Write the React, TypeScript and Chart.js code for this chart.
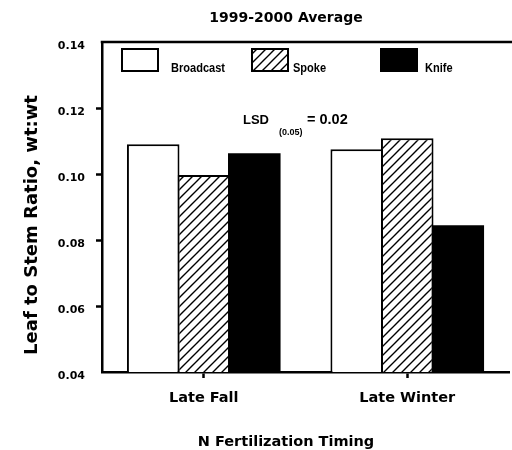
import React, { useEffect, useRef } from "react";
import { Chart, registerables } from "chart.js";

Chart.register(...registerables);

const categories = ["Late Fall", "Late Winter"];
const seriesNames = ["Broadcast", "Spoke", "Knife"];
const broadcastValues = [0.109, 0.1075];
const spokeValues = [0.0997, 0.1108];
const knifeValues = [0.1063, 0.0845];
const yMin = 0.04;
const yMax = 0.14;
const yStep = 0.02;
const chartTitle = "1999-2000 Average";
const yAxisTitle = "Leaf to Stem Ratio, wt:wt";
const xAxisTitle = "N Fertilization Timing";
const lsdMain = "LSD";
const lsdSub = "(0.05)";
const lsdValue = "= 0.02";

const FONT = '"DejaVu Sans", sans-serif';

function makeHatch(): CanvasPattern | string {
  const s = 9;
  const c = document.createElement("canvas");
  c.width = s;
  c.height = s;
  const g = c.getContext("2d");
  if (!g) return "#fff";
  g.fillStyle = "#fff";
  g.fillRect(0, 0, s, s);
  g.strokeStyle = "#000";
  g.lineWidth = 1.4;
  g.beginPath();
  g.moveTo(-1, s + 1);
  g.lineTo(s + 1, -1);
  g.moveTo(-1, 1);
  g.lineTo(1, -1);
  g.moveTo(s - 1, s + 1);
  g.lineTo(s + 1, s - 1);
  g.stroke();
  return g.createPattern(c, "repeat") || "#fff";
}

const decorPlugin = {
  id: "decor",
  afterDraw(chart: any) {
    const ctx: CanvasRenderingContext2D = chart.ctx;
    const ca = chart.chartArea;
    ctx.save();
    // top frame line
    ctx.strokeStyle = "#000";
    ctx.lineWidth = 2.5;
    ctx.beginPath();
    ctx.moveTo(ca.left - 1.25, ca.top);
    ctx.lineTo(chart.width, ca.top);
    ctx.stroke();

    ctx.fillStyle = "#000";
    // title
    ctx.font = `bold 14px ${FONT}`;
    ctx.textAlign = "center";
    ctx.textBaseline = "alphabetic";
    ctx.fillText(chartTitle, ca.left + 184, 22);

    // x axis title
    ctx.font = `bold 14.5px ${FONT}`;
    ctx.fillText(xAxisTitle, ca.left + 184, 446);

    // y axis title
    ctx.save();
    ctx.translate(37, 225);
    ctx.rotate(-Math.PI / 2);
    ctx.font = `bold 18px ${FONT}`;
    ctx.textAlign = "center";
    ctx.fillText(yAxisTitle, 0, 0);
    ctx.restore();

    // legend
    const boxOffsets = [20, 150, 279];
    const labelOffsets = [69, 191, 323];
    chart.data.datasets.forEach((ds: any, i: number) => {
      const bx = ca.left + boxOffsets[i];
      const by = ca.top + 7;
      ctx.fillStyle = ds.backgroundColor;
      ctx.fillRect(bx, by, 36, 22);
      ctx.strokeStyle = "#000";
      ctx.lineWidth = 2;
      ctx.strokeRect(bx, by, 36, 22);
      ctx.save();
      ctx.fillStyle = "#000";
      ctx.font = 'bold 13px "Liberation Sans", sans-serif';
      ctx.textAlign = "left";
      ctx.textBaseline = "alphabetic";
      ctx.translate(ca.left + labelOffsets[i], ca.top + 30);
      ctx.scale(0.85, 1);
      ctx.fillText(ds.label, 0, 0);
      ctx.restore();
    });

    // LSD annotation
    ctx.fillStyle = "#000";
    ctx.textAlign = "left";
    ctx.font = 'bold 13px "Liberation Sans", sans-serif';
    ctx.fillText(lsdMain, ca.left + 141, ca.top + 82);
    ctx.font = 'bold 9px "Liberation Sans", sans-serif';
    ctx.fillText(lsdSub, ca.left + 177, ca.top + 93);
    ctx.font = 'bold 14.5px "Liberation Sans", sans-serif';
    ctx.fillText(lsdValue, ca.left + 205, ca.top + 82);
    ctx.restore();
  },
};

export default function App() {
  const canvasRef = useRef<HTMLCanvasElement | null>(null);

  useEffect(() => {
    document.body.style.margin = "0";
    const canvas = canvasRef.current;
    if (!canvas) return;
    const hatch = makeHatch();
    const barCommon = {
      borderColor: "#000",
      borderWidth: 2,
      borderSkipped: false as const,
      categoryPercentage: 0.745,
      barPercentage: 1.04,
    };
    const chart = new Chart(canvas, {
      type: "bar",
      data: {
        labels: categories,
        datasets: [
          { label: seriesNames[0], data: broadcastValues, backgroundColor: "#ffffff", ...barCommon },
          { label: seriesNames[1], data: spokeValues, backgroundColor: hatch as any, ...barCommon },
          { label: seriesNames[2], data: knifeValues, backgroundColor: "#000000", ...barCommon, borderWidth: 0 },
        ],
      },
      options: {
        animation: false,
        responsive: false,
        devicePixelRatio: 1,
        layout: { padding: { top: 42, right: 3, left: 0, bottom: 0 } },
        plugins: {
          legend: { display: false },
          title: { display: false },
          tooltip: { enabled: false },
        },
        scales: {
          x: {
            grid: {
              offset: false,
              drawOnChartArea: false,
              drawTicks: true,
              tickLength: 6,
              tickWidth: 2.5,
              tickColor: "#000",
            },
            border: { display: true, color: "#000", width: 2.5 },
            ticks: {
              color: "#000",
              padding: 12,
              font: { family: "DejaVu Sans", weight: "bold", size: 14.5 },
            },
            afterFit: (scale: any) => {
              scale.height = 78;
            },
          },
          y: {
            min: yMin,
            max: yMax,
            grid: {
              drawOnChartArea: false,
              drawTicks: true,
              tickLength: 6,
              tickWidth: 2.5,
              tickColor: (c: any) => {
                const v = c.tick ? c.tick.value : null;
                if (v === null) return "#000";
                if (Math.abs(v - yMin) < 1e-9 || Math.abs(v - yMax) < 1e-9) return "rgba(0,0,0,0)";
                return "#000";
              },
            },
            border: { display: true, color: "#000", width: 2.5 },
            ticks: {
              stepSize: yStep,
              color: "#000",
              padding: 11,
              labelOffset: 4,
              font: { family: "DejaVu Sans", weight: "bold", size: 11 },
              callback: (v: any) => Number(v).toFixed(2),
            },
            afterFit: (scale: any) => {
              scale.width = 102;
            },
          },
        },
      } as any,
      plugins: [decorPlugin],
    });
    return () => chart.destroy();
  }, []);

  return <canvas ref={canvasRef} width={512} height={450} style={{ display: "block" }} />;
}
